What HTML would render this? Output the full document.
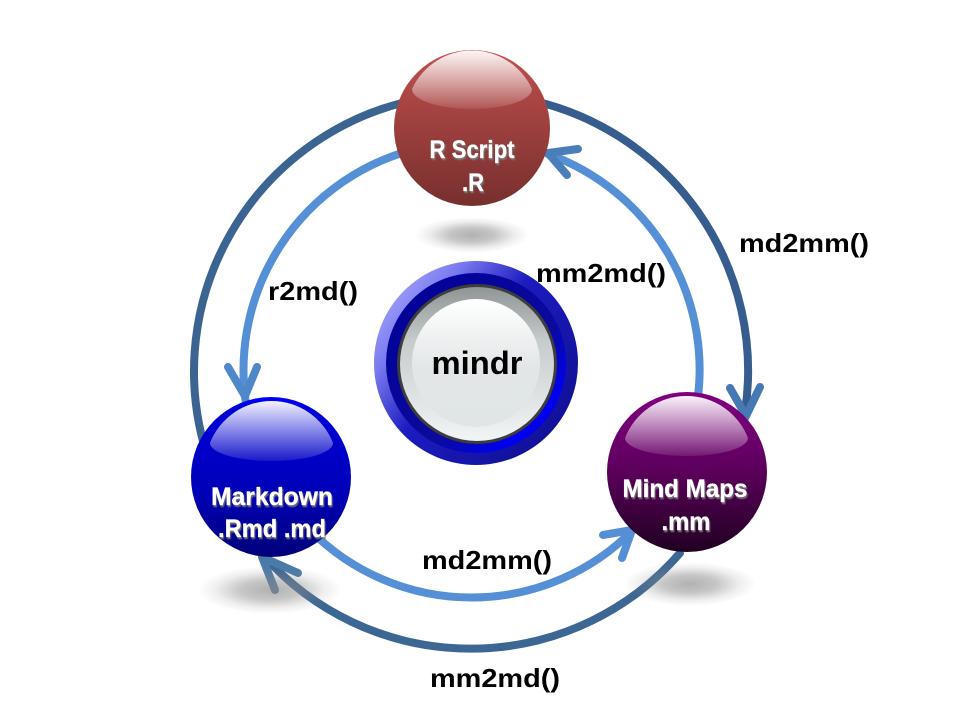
<!DOCTYPE html>
<html><head><meta charset="utf-8"><style>
html,body{margin:0;padding:0;background:#fff}
svg{display:block}
text{font-family:"Liberation Sans",sans-serif;font-weight:bold;text-anchor:middle}
.l{font-size:26px;fill:#000}
.n{font-size:25px;fill:#fff;stroke:#fff;stroke-width:.3}
</style></head><body>
<svg width="960" height="720" viewBox="0 0 960 720" xmlns="http://www.w3.org/2000/svg">
<defs>
<linearGradient id="r" x1="0" y1="0" x2="0" y2="1"><stop offset="0" stop-color="#c0504d"/><stop offset="1" stop-color="#772f2e"/></linearGradient>
<linearGradient id="b" x1="0" y1="0" x2="0" y2="1"><stop offset="0" stop-color="#0000ff"/><stop offset=".08" stop-color="#0000d8"/><stop offset=".6" stop-color="#0000b8"/><stop offset="1" stop-color="#00007a"/></linearGradient>
<linearGradient id="p" x1="0" y1="0" x2="0" y2="1"><stop offset="0" stop-color="#800080"/><stop offset=".45" stop-color="#600060"/><stop offset="1" stop-color="#200020"/></linearGradient>
<linearGradient id="g" x1="0" y1="0" x2="0" y2="1"><stop offset="0" stop-color="#fff" stop-opacity=".95"/><stop offset="1" stop-color="#fff" stop-opacity=".1"/></linearGradient>
<linearGradient id="o" x1="0" y1=".1" x2="1" y2=".9"><stop offset="0" stop-color="#b0b0ff"/><stop offset=".22" stop-color="#7a7af0"/><stop offset=".45" stop-color="#1c1cc0"/><stop offset="1" stop-color="#0e0e90"/></linearGradient>
<linearGradient id="o2" x1="0" y1="0" x2="1" y2="1"><stop offset="0" stop-color="#000098"/><stop offset=".6" stop-color="#0a0a9c"/><stop offset=".82" stop-color="#0000f0"/><stop offset="1" stop-color="#0000c0"/></linearGradient>
<linearGradient id="s" x1="0" y1="0" x2="0" y2="1"><stop offset="0" stop-color="#8f9494"/><stop offset=".35" stop-color="#c6cbcb"/><stop offset="1" stop-color="#f2f5f5"/></linearGradient>
<linearGradient id="s2" x1="0" y1="0" x2="0" y2="1"><stop offset="0" stop-color="#fff"/><stop offset=".55" stop-color="#e2e6e6"/><stop offset="1" stop-color="#e0e5e5"/></linearGradient>
<radialGradient id="sh"><stop offset="0" stop-color="#888" stop-opacity=".65"/><stop offset=".4" stop-color="#888" stop-opacity=".48"/><stop offset=".75" stop-color="#888" stop-opacity=".14"/><stop offset="1" stop-color="#888" stop-opacity="0"/></radialGradient>
<filter id="ts" x="-10%" y="-10%" width="120%" height="130%"><feDropShadow dx="1" dy="2" stdDeviation=".6" flood-color="#777" flood-opacity=".95"/></filter>
</defs>

<g fill="none" stroke-linecap="round">
<!-- outer ring: center 471,371 r 277 -->
<path d="M 420 99 A 277 277 0 0 0 210 464" stroke="#3b6491" stroke-width="8"/>
<path d="M 525 99 A 277 277 0 0 1 745 412" stroke="#365d8e" stroke-width="8"/>
<path d="M 263 555 A 277 277 0 0 0 680 553" stroke="#3d6793" stroke-width="8"/>
<path d="M 730 388 L 746 416 L 760 387" stroke="#4679b4" stroke-width="8"/>
<path d="M 262 557 L 275 590 M 262 557 L 298 573" stroke="#4a7aa8" stroke-width="8"/>
<!-- inner ring: center 471,370 r 228 -->
<path d="M 420 148 A 228 228 0 0 0 248 415" stroke="#5590d6" stroke-width="8"/>
<path d="M 548 154 A 229 229 0 0 1 696 410" stroke="#5590d6" stroke-width="8"/>
<path d="M 310 530 A 227 227 0 0 0 633 530" stroke="#5590d6" stroke-width="8"/>
<path d="M 228 367 L 245 396 L 257 367" stroke="#4f88c9" stroke-width="8"/>
<path d="M 578 149 L 548 153 L 567 175" stroke="#4a7eb8" stroke-width="8"/>
<path d="M 603 535 L 632 530 L 622 558" stroke="#5590d6" stroke-width="8"/>
</g>

<ellipse cx="472" cy="235" rx="57" ry="18" fill="url(#sh)"/>
<ellipse cx="270" cy="590" rx="72" ry="24" fill="url(#sh)"/>
<ellipse cx="690" cy="584" rx="66" ry="22" fill="url(#sh)"/>

<circle cx="472" cy="128" r="78" fill="url(#r)"/>
<path d="M 412 89 A 66 66 0 0 1 532 89 A 60 20 0 0 1 412 89 Z" fill="url(#g)"/>
<circle cx="271" cy="477" r="80" fill="url(#b)"/>
<path d="M 210 443 A 66 66 0 0 1 333 443 A 61.5 18 0 0 1 210 443 Z" fill="url(#g)"/>
<circle cx="687" cy="472" r="80" fill="url(#p)"/>
<path d="M 625 438 A 66 66 0 0 1 748 438 A 61.5 18 0 0 1 625 438 Z" fill="url(#g)"/>

<circle cx="476" cy="363" r="102" fill="url(#o)"/>
<circle cx="476" cy="363" r="90" fill="url(#o2)"/>
<circle cx="477" cy="364" r="80" fill="#3d3d3d"/>
<circle cx="477" cy="364" r="77" fill="url(#s)"/>
<circle cx="476" cy="363" r="64" fill="url(#s2)"/>

<text x="472" y="158" class="n" filter="url(#ts)" textLength="85" lengthAdjust="spacingAndGlyphs">R Script</text>
<text x="473" y="191" class="n" filter="url(#ts)" textLength="22" lengthAdjust="spacingAndGlyphs">.R</text>
<text x="272" y="505" class="n" filter="url(#ts)" textLength="122" lengthAdjust="spacingAndGlyphs">Markdown</text>
<text x="272" y="537" class="n" filter="url(#ts)" textLength="108" lengthAdjust="spacingAndGlyphs">.Rmd .md</text>
<text x="685" y="497" class="n" filter="url(#ts)" textLength="125" lengthAdjust="spacingAndGlyphs">Mind Maps</text>
<text x="686" y="530" class="n" filter="url(#ts)" textLength="49" lengthAdjust="spacingAndGlyphs">.mm</text>

<text x="477" y="374" style="font-size:32px" fill="#000" textLength="91" lengthAdjust="spacingAndGlyphs">mindr</text>
<text x="804" y="252" class="l" textLength="130" lengthAdjust="spacingAndGlyphs">md2mm()</text>
<text x="601" y="282" class="l" textLength="130" lengthAdjust="spacingAndGlyphs">mm2md()</text>
<text x="313" y="300" class="l" textLength="90" lengthAdjust="spacingAndGlyphs">r2md()</text>
<text x="487" y="569" class="l" textLength="130" lengthAdjust="spacingAndGlyphs">md2mm()</text>
<text x="495" y="687" class="l" textLength="130" lengthAdjust="spacingAndGlyphs">mm2md()</text>
</svg>
</body></html>
